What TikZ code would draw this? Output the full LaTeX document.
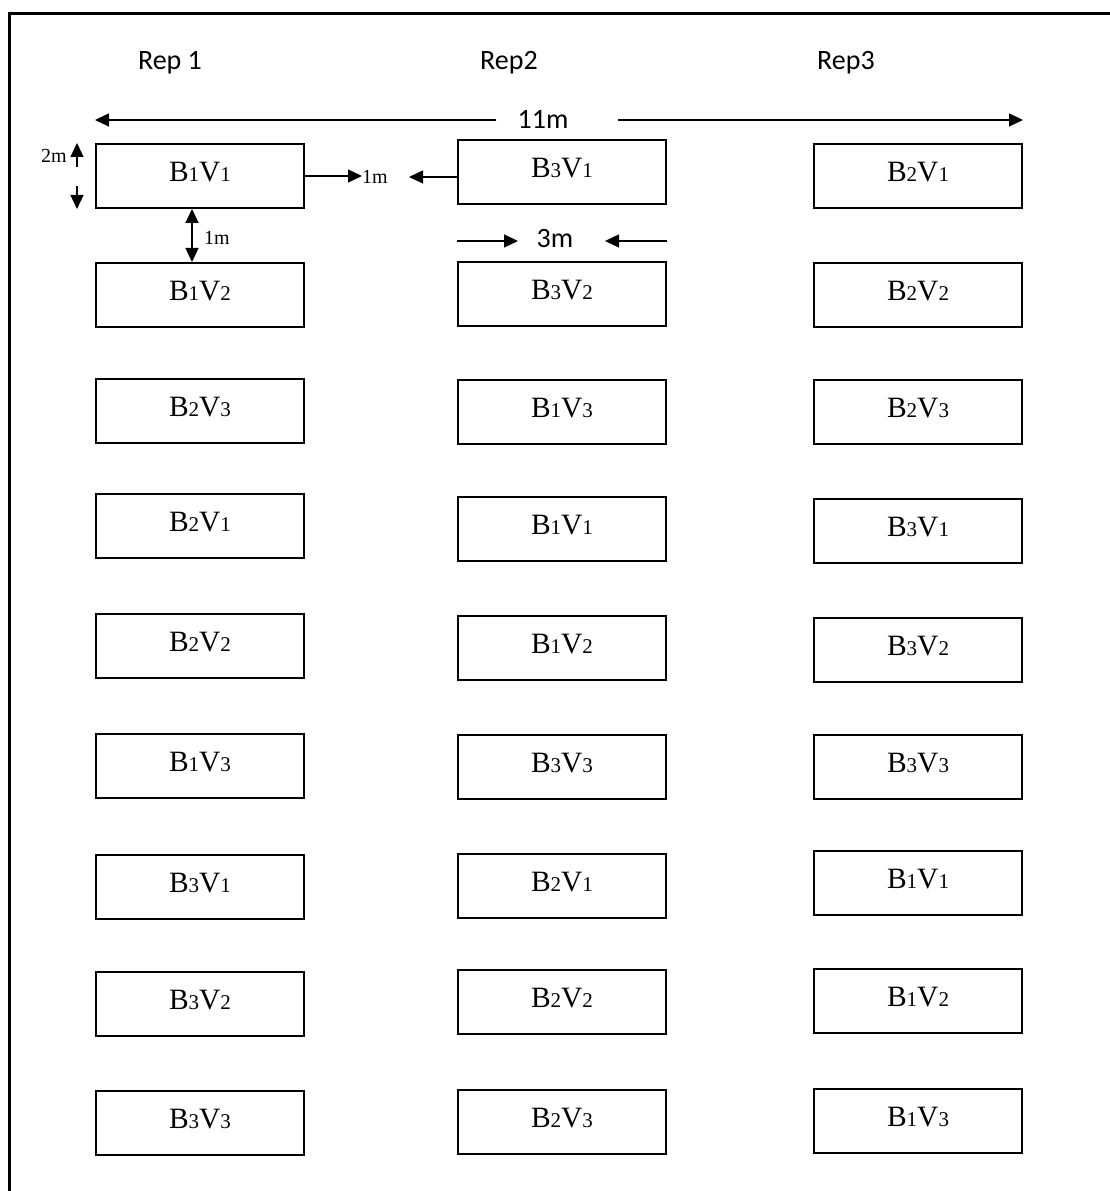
\documentclass[tikz,border=0pt]{standalone}
\usepackage{fontspec}
\setmainfont{Liberation Serif}
\newfontfamily\calibri{Carlito}
\usetikzlibrary{arrows.meta,positioning}
\newcommand{\plotno}[1]{{\fontsize{21}{21}\selectfont #1}}

\begin{document}
\begin{tikzpicture}[x=1pt, y=1pt,
    plot/.style={rectangle, draw, line width=1.8pt, outer sep=0.9pt, minimum width=208.2pt, minimum height=64.2pt, inner sep=0pt, text depth=8pt, font=\fontsize{29.5}{31}\selectfont},
    replabel/.style={inner sep=0pt, anchor=base, font=\calibri\fontsize{28}{30}\selectfont},
    dimlabel/.style={inner sep=0pt, font=\fontsize{20}{22}\selectfont},
    arrow/.style={-{Triangle[length=14pt, width=13pt]}, line width=1.3pt},
    darrow/.style={{Triangle[length=14pt, width=13pt]}-{Triangle[length=14pt, width=13pt]}, line width=1.3pt},
    frame/.style={line width=3pt},
]
    \useasboundingbox (0,0) rectangle (1110,1191);
    \draw[frame] (1113,1177) -| (9.5,-3);

    % Rep 1
    \node[plot, anchor=north west] (r1b1v1) at (95,1048) {B\plotno{1}V\plotno{1}};
    \node[plot, below=53pt of r1b1v1] (r1b1v2) {B\plotno{1}V\plotno{2}};
    \node[plot, below=50pt of r1b1v2] (r1b2v3) {B\plotno{2}V\plotno{3}};
    \node[plot, below=49pt of r1b2v3] (r1b2v1) {B\plotno{2}V\plotno{1}};
    \node[plot, below=54pt of r1b2v1] (r1b2v2) {B\plotno{2}V\plotno{2}};
    \node[plot, below=54pt of r1b2v2] (r1b1v3) {B\plotno{1}V\plotno{3}};
    \node[plot, below=55pt of r1b1v3] (r1b3v1) {B\plotno{3}V\plotno{1}};
    \node[plot, below=51pt of r1b3v1] (r1b3v2) {B\plotno{3}V\plotno{2}};
    \node[plot, below=53pt of r1b3v2] (r1b3v3) {B\plotno{3}V\plotno{3}};

    % Rep2
    \node[plot, anchor=north west] (r2b3v1) at (457,1052) {B\plotno{3}V\plotno{1}};
    \node[plot, below=56pt of r2b3v1] (r2b3v2) {B\plotno{3}V\plotno{2}};
    \node[plot, below=52pt of r2b3v2] (r2b1v3) {B\plotno{1}V\plotno{3}};
    \node[plot, below=51pt of r2b1v3] (r2b1v1) {B\plotno{1}V\plotno{1}};
    \node[plot, below=53pt of r2b1v1] (r2b1v2) {B\plotno{1}V\plotno{2}};
    \node[plot, below=53pt of r2b1v2] (r2b3v3) {B\plotno{3}V\plotno{3}};
    \node[plot, below=53pt of r2b3v3] (r2b2v1) {B\plotno{2}V\plotno{1}};
    \node[plot, below=50pt of r2b2v1] (r2b2v2) {B\plotno{2}V\plotno{2}};
    \node[plot, below=54pt of r2b2v2] (r2b2v3) {B\plotno{2}V\plotno{3}};

    % Rep3
    \node[plot, anchor=north west] (r3b2v1) at (813,1048) {B\plotno{2}V\plotno{1}};
    \node[plot, below=53pt of r3b2v1] (r3b2v2) {B\plotno{2}V\plotno{2}};
    \node[plot, below=51pt of r3b2v2] (r3b2v3) {B\plotno{2}V\plotno{3}};
    \node[plot, below=53pt of r3b2v3] (r3b3v1) {B\plotno{3}V\plotno{1}};
    \node[plot, below=53pt of r3b3v1] (r3b3v2) {B\plotno{3}V\plotno{2}};
    \node[plot, below=51pt of r3b3v2] (r3b3v3) {B\plotno{3}V\plotno{3}};
    \node[plot, below=50pt of r3b3v3] (r3b1v1) {B\plotno{1}V\plotno{1}};
    \node[plot, below=52pt of r3b1v1] (r3b1v2) {B\plotno{1}V\plotno{2}};
    \node[plot, below=54pt of r3b1v2] (r3b1v3) {B\plotno{1}V\plotno{3}};

    \node[replabel] (rep1) at (170,1121) {Rep 1};
    \node[replabel] (rep2) at (509,1121) {Rep2};
    \node[replabel] (rep3) at (846,1121) {Rep3};

    % dimensions
    \node[replabel] (fieldwidth) at (543,1062) {11m};
    \draw[arrow] ([xshift=-21pt]fieldwidth.west) -- (fieldwidth.west -| r1b1v1.west);
    \draw[arrow] ([xshift=49pt]fieldwidth.east) -- (fieldwidth.east -| r3b2v1.east);

    \node[dimlabel, anchor=base east] (plotheight) at (67,1028) {2m};
    \draw[arrow] ([xshift=-18pt, yshift=-24pt]r1b1v1.north west) -- ([xshift=-18pt]r1b1v1.north west);
    \draw[arrow] ([xshift=-18pt, yshift=23pt]r1b1v1.south west) -- ([xshift=-18pt]r1b1v1.south west);

    \node[dimlabel, anchor=base west] (repgap) at (362,1007) {1m};
    \draw[arrow] (r1b1v1.east) -- (r1b1v1.east -| repgap.west);
    \draw[arrow] ([yshift=-5pt]r2b3v1.west) -- ([xshift=-48pt, yshift=-5pt]r2b3v1.west);

    \node[dimlabel, anchor=base west] (rowgap) at (204,946) {1m};
    \draw[darrow] ([xshift=-8pt]r1b1v1.south) -- ([xshift=-8pt]r1b1v2.north);

    \node[replabel] (plotwidth) at (555,943) {3m};
    \draw[arrow] ([yshift=20pt]r2b3v2.north west) -- ++(61,0);
    \draw[arrow] ([yshift=20pt]r2b3v2.north east) -- ++(-62,0);
\end{tikzpicture}
\end{document}
